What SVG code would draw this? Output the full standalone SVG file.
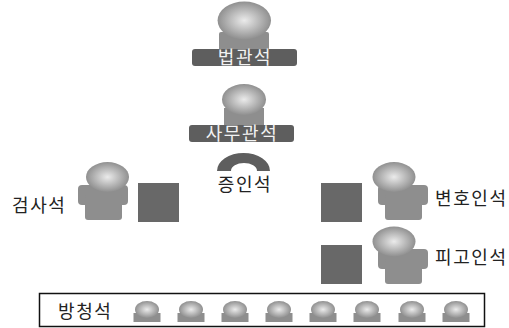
<svg xmlns="http://www.w3.org/2000/svg" xmlns:xlink="http://www.w3.org/1999/xlink" width="509" height="328" viewBox="0 0 509 328">
<style>
text{font-family:"Noto Sans CJK KR","Noto Sans",sans-serif;font-size:18px;fill:#222;letter-spacing:1.6px}
.w{fill:#f2f2f2;text-anchor:middle}
.m{text-anchor:middle}
.body{fill:#8e8e8e}
.bar{fill:#5e5e5e}
.desk{fill:#686868}
.head{fill:url(#g)}
</style>
<defs>
<radialGradient id="g" cx="0.5" cy="0.5" r="0.56">
<stop offset="0" stop-color="#ebebeb"/>
<stop offset="1" stop-color="#858585"/>
</radialGradient>
<g id="torso">
<rect class="body" x="0" y="185" width="50" height="20" rx="4"/>
<rect class="body" x="7" y="195" width="37" height="25" rx="3"/>
</g>
<g id="seat">
<rect class="body" x="-13.5" y="313" width="27" height="9"/>
<ellipse class="head" cx="0" cy="309.5" rx="12" ry="8.5"/>
</g>
</defs>
<g id="connectors"/>
<g id="judge">
<rect class="body" x="219" y="32" width="50" height="20" rx="2"/>
<ellipse class="head" cx="244.3" cy="20.5" rx="26.7" ry="19"/>
<rect class="bar" x="192" y="49" width="105" height="17" rx="3"/>
<text class="w" x="245" y="64">법관석</text>
</g>
<g id="clerk">
<rect class="body" x="224" y="108" width="40" height="20"/>
<ellipse class="head" cx="244" cy="99.5" rx="22" ry="15.5"/>
<rect class="bar" x="189" y="125" width="105" height="17" rx="3"/>
<text class="w" x="242" y="140">사무관석</text>
</g>
<g id="witness">
<path class="bar" d="M217 171A26.5 18 0 0 1 270 171L257 171A13 8 0 0 0 231 171Z"/>
<text class="m" x="245" y="191">증인석</text>
</g>
<g id="prosecutor">
<use xlink:href="#torso" href="#torso" x="78"/>
<ellipse class="head" cx="107.5" cy="177" rx="21.5" ry="15"/>
<rect class="desk" x="138" y="183" width="41" height="39"/>
<text x="12" y="212">검사석</text>
</g>
<g id="lawyer">
<rect class="desk" x="321" y="183" width="41" height="39"/>
<use xlink:href="#torso" href="#torso" x="378"/>
<ellipse class="head" cx="394" cy="177" rx="21.5" ry="15"/>
<text x="435" y="205">변호인석</text>
</g>
<g id="defendant">
<rect class="desk" x="321" y="245" width="41" height="39"/>
<use xlink:href="#torso" href="#torso" x="378" y="64"/>
<ellipse class="head" cx="394" cy="241.5" rx="21.5" ry="15"/>
<text x="435" y="264">피고인석</text>
</g>
<g id="gallery">
<rect x="39.5" y="293.5" width="445" height="33" fill="#fff" stroke="#111" stroke-width="1.5"/>
<text x="58" y="318">방청석</text>
<use xlink:href="#seat" href="#seat" x="147"/>
<use xlink:href="#seat" href="#seat" x="191"/>
<use xlink:href="#seat" href="#seat" x="235"/>
<use xlink:href="#seat" href="#seat" x="279"/>
<use xlink:href="#seat" href="#seat" x="323"/>
<use xlink:href="#seat" href="#seat" x="367"/>
<use xlink:href="#seat" href="#seat" x="412"/>
<use xlink:href="#seat" href="#seat" x="456"/>
</g>
</svg>
